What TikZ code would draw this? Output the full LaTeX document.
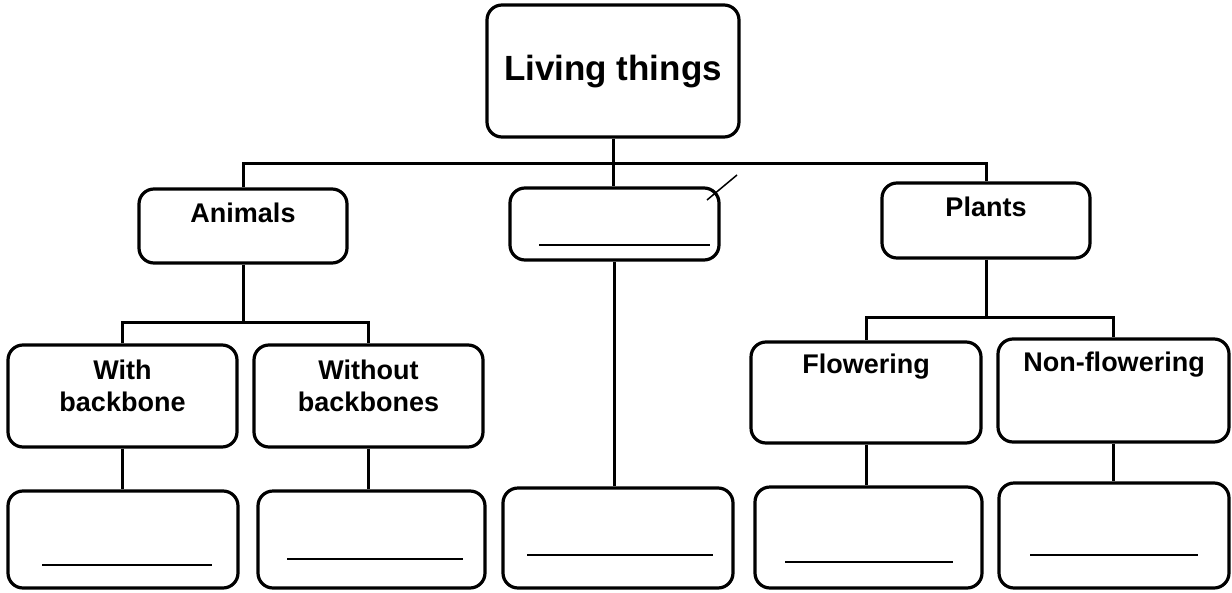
\documentclass[tikz,border=0pt]{standalone}
\usepackage{fontspec}
\setmainfont{Liberation Sans}
\begin{document}
\begin{tikzpicture}[x=1pt,y=-1pt,
  box/.style={draw,line width=3.2pt,rounded corners=15pt,inner sep=0pt},
  conn/.style={line width=3pt},
  blank/.style={line width=2.4pt},
  lab/.style={font=\bfseries\fontsize{27}{32}\selectfont,align=center,inner sep=0pt}]
\useasboundingbox (0,0) rectangle (1232,592);
% boxes
\node[box,minimum width=252pt,minimum height=132pt] (root) at (613,71) {};
\node[box,minimum width=208pt,minimum height=74pt] (animals) at (243,226) {};
\node[box,minimum width=209pt,minimum height=72pt] (mid) at (614.5,224) {};
\node[box,minimum width=208pt,minimum height=75pt] (plants) at (986,220.5) {};
\node[box,minimum width=229pt,minimum height=102pt] (with) at (122.5,396) {};
\node[box,minimum width=229pt,minimum height=102pt] (without) at (368.5,396) {};
\node[box,minimum width=230pt,minimum height=101pt] (flow) at (866,392.5) {};
\node[box,minimum width=231pt,minimum height=103pt] (non) at (1113.5,390.5) {};
\node[box,minimum width=230pt,minimum height=97pt] (withb) at (123,539.5) {};
\node[box,minimum width=227pt,minimum height=97pt] (withoutb) at (371.5,539.5) {};
\node[box,minimum width=230pt,minimum height=100pt] (midb) at (618,538) {};
\node[box,minimum width=227pt,minimum height=101pt] (flowb) at (868.5,537.5) {};
\node[box,minimum width=230pt,minimum height=105pt] (nonb) at (1114,535.5) {};
% labels
\node[lab,font=\bfseries\fontsize{35}{40}\selectfont] (troot) at (613,72) {Living things};
\node[lab] (tanimals) at (243,213) {Animals};
\node[lab] (tplants) at (986,207) {Plants};
\node[lab] (twith) at (122.5,386) {With\\backbone};
\node[lab] (twithout) at (368.5,386) {Without\\backbones};
\node[lab] (tflow) at (866,367) {Flowering};
\node[lab] (tnon) at (1114,365) {Non-flowering};
% connector levels
\coordinate (hy) at (0,163);
\coordinate (ay) at (0,322);
\coordinate (py) at (0,317);
% connectors
\draw[conn] (root.south) -- (root.south |- mid.north);
\draw[conn] (animals.north) -- (animals.north |- hy) -- (plants.north |- hy) -- (plants.north);
\draw[conn] (animals.south) -- (animals.south |- ay);
\draw[conn] (with.north) -- (with.north |- ay) -- (without.north |- ay) -- (without.north);
\draw[conn] (plants.south) -- (plants.south |- py);
\draw[conn] (flow.north) -- (flow.north |- py) -- (non.north |- py) -- (non.north);
\draw[conn] (with.south) -- (with.south |- withb.north);
\draw[conn] (without.south) -- (without.south |- withoutb.north);
\draw[conn] (mid.south) -- (mid.south |- midb.north);
\draw[conn] (flow.south) -- (flow.south |- flowb.north);
\draw[conn] (non.south) -- (non.south |- nonb.north);
% blank answer lines
\draw[blank] (539,245) -- (710,245);
\draw[blank] (42,565) -- (212,565);
\draw[blank] (287,559) -- (463,559);
\draw[blank] (527,555) -- (713,555);
\draw[blank] (785,562) -- (953,562);
\draw[blank] (1030,555) -- (1198,555);
% stray tick mark
\draw[line width=1.5pt] (707,200) -- (737,175);
\end{tikzpicture}
\end{document}
